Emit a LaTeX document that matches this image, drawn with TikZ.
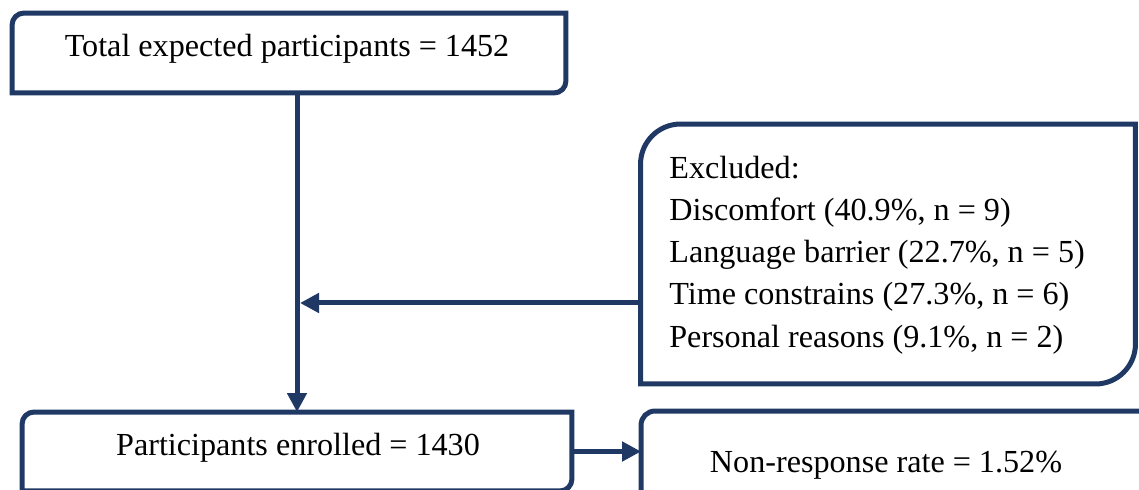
\documentclass[tikz,border=0pt]{standalone}
\usepackage{fontspec}
\setmainfont{Liberation Serif}
\usepackage{tikz}
\usetikzlibrary{arrows.meta, positioning}
\definecolor{navy}{HTML}{203864}
\tikzset{>={Triangle[length=0.38cm, width=0.38cm]}}

\begin{document}
\begin{tikzpicture}[x=0.02cm, y=-0.02cm,
    frame/.style={draw=navy, line width=0.1cm},
    area/.style={rectangle, inner sep=0pt, outer sep=0pt},
    txt/.style={inner sep=0pt, font=\fontsize{18.3}{24}\selectfont},
    conn/.style={->, draw=navy, line width=0.1cm}]
    \useasboundingbox (0,0) rectangle (1139,490);

    \node (totalbox) [area, minimum width=11.08cm, minimum height=1.6cm] at (289,53) {};
    \node (enrolbox) [area, minimum width=11cm, minimum height=1.58cm] at (297,451.5) {};
    \node (exclbox) [area, minimum width=9.9cm, minimum height=5.2cm] at (888,254) {};
    \node (nonbox) [area, minimum width=10.2cm, minimum height=1.7cm] at (896,453.5) {};

    \draw [frame] ([yshift=-0.24cm]totalbox.north west) arc [start angle=180, end angle=90, radius=0.24cm]
        -- (totalbox.north east) -- ([yshift=0.24cm]totalbox.south east)
        arc [start angle=0, end angle=-90, radius=0.24cm] -- (totalbox.south west) -- cycle;
    \draw [frame] ([yshift=-0.24cm]enrolbox.north west) arc [start angle=180, end angle=90, radius=0.24cm]
        -- (enrolbox.north east) -- ([yshift=0.24cm]enrolbox.south east)
        arc [start angle=0, end angle=-90, radius=0.24cm] -- (enrolbox.south west) -- cycle;
    \draw [frame] ([yshift=-0.8cm]exclbox.north west) arc [start angle=180, end angle=90, radius=0.8cm]
        -- (exclbox.north east) -- ([yshift=0.8cm]exclbox.south east)
        arc [start angle=0, end angle=-90, radius=0.8cm] -- (exclbox.south west) -- cycle;
    \draw [frame] ([yshift=-0.28cm]nonbox.north west) arc [start angle=180, end angle=90, radius=0.28cm]
        -- (nonbox.north east) -- ([yshift=0.28cm]nonbox.south east)
        arc [start angle=0, end angle=-90, radius=0.28cm] -- (nonbox.south west) -- cycle;

    \node (total) [txt] at (287,49) {Total expected participants = 1452};
    \node (enrolled) [txt] at (298,448) {Participants enrolled = 1430};
    \node (nonresp) [txt] at (886,465) {Non-response rate = 1.52\%};
    \node (excluded) [txt, align=left, anchor=west] at (669,255)
        {Excluded:\\Discomfort (40.9\%, n = 9)\\Language barrier (22.7\%, n = 5)\\Time constrains (27.3\%, n = 6)\\Personal reasons (9.1\%, n = 2)};

    \draw [conn] (totalbox.south -| enrolbox.north) -- (enrolbox.north);
    \draw [conn, shorten >=0.06cm] ([yshift=-0.98cm]exclbox.west) -- ([yshift=-0.98cm]exclbox.west -| enrolbox.north);
    \draw [conn] (enrolbox.east) -- (enrolbox.east -| nonbox.west);
\end{tikzpicture}
\end{document}
